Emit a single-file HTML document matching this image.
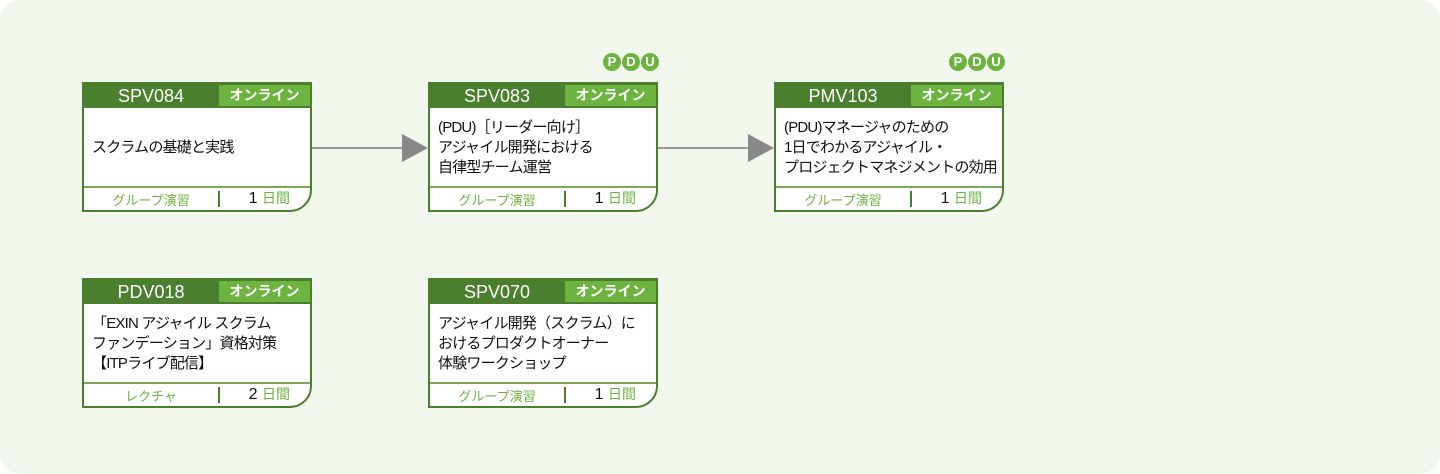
<!DOCTYPE html>
<html><head><meta charset="utf-8"><style>
body{margin:0;width:1440px;height:474px;background:#fff;position:relative;overflow:hidden;font-family:"Liberation Sans","Noto Sans CJK JP",sans-serif}
.bg{position:absolute;left:0;top:0;width:1440px;height:474px;background:#f2f7ee;border-radius:20px}
.card{position:absolute;width:230px;height:130px;border:2px solid #4a7f2e;border-bottom-right-radius:22px;background:#fff;box-sizing:border-box;overflow:hidden}
.hd{position:absolute;left:0;top:0;width:100%;height:24px;background:#4a7f2e}
.code{position:absolute;left:0;top:0;width:134px;height:24px;color:#fff;font-size:18px;line-height:24px;text-align:center}
.on{position:absolute;left:135px;top:1px;width:91px;height:21px;background:#6db33f;color:#fff;font-size:14px;font-weight:bold;line-height:21px;text-align:center}
.body{position:absolute;left:8px;top:24px;right:0;height:80px;display:flex;align-items:center;font-size:15px;line-height:20px;color:#111;white-space:nowrap;letter-spacing:-0.8px}
.ft{position:absolute;left:0;bottom:0;width:100%;height:24px;border-top:2px solid #7aa85a;box-sizing:border-box}
.ft .l{position:absolute;left:0;width:134px;top:2px;text-align:center;color:#6db33f;font-size:13px}
.ft .d{position:absolute;left:134px;top:3px;width:2px;height:16px;background:#4a7f2e}
.ft .r{position:absolute;right:20px;top:0;font-size:16px;color:#111}
.ft .r span{color:#6db33f;font-size:14px}
.pdu{position:absolute;display:flex;gap:1px}
.pdu b{width:18px;height:18px;border-radius:50%;background:#6db33f;color:#fff;font-size:13px;line-height:18px;text-align:center}
</style></head><body>
<div class="bg"></div>
<svg width="1440" height="474" style="position:absolute;left:0;top:0">
<line x1="312" y1="148" x2="404" y2="148" stroke="#999" stroke-width="2"/><polygon points="402,134 428,148 402,162" fill="#888"/>
<line x1="658" y1="148" x2="750" y2="148" stroke="#999" stroke-width="2"/><polygon points="748,134 774,148 748,162" fill="#888"/>
</svg>
<div class="pdu" style="left:603px;top:53px"><b>P</b><b>D</b><b>U</b></div>
<div class="pdu" style="left:949px;top:53px"><b>P</b><b>D</b><b>U</b></div>

<div class="card" style="left:82px;top:82px"><div class="hd"><div class="code">SPV084</div><div class="on">オンライン</div></div>
<div class="body">スクラムの基礎と実践</div>
<div class="ft"><div class="l">グループ演習</div><div class="d"></div><div class="r">1 <span>日間</span></div></div></div>

<div class="card" style="left:428px;top:82px"><div class="hd"><div class="code">SPV083</div><div class="on">オンライン</div></div>
<div class="body">(PDU)［リーダー向け］<br>アジャイル開発における<br>自律型チーム運営</div>
<div class="ft"><div class="l">グループ演習</div><div class="d"></div><div class="r">1 <span>日間</span></div></div></div>

<div class="card" style="left:774px;top:82px"><div class="hd"><div class="code">PMV103</div><div class="on">オンライン</div></div>
<div class="body">(PDU)マネージャのための<br>1日でわかるアジャイル・<br>プロジェクトマネジメントの効用</div>
<div class="ft"><div class="l">グループ演習</div><div class="d"></div><div class="r">1 <span>日間</span></div></div></div>

<div class="card" style="left:82px;top:278px"><div class="hd"><div class="code">PDV018</div><div class="on">オンライン</div></div>
<div class="body">「EXIN アジャイル スクラム<br>ファンデーション」資格対策<br>【ITPライブ配信】</div>
<div class="ft"><div class="l">レクチャ</div><div class="d"></div><div class="r">2 <span>日間</span></div></div></div>

<div class="card" style="left:428px;top:278px"><div class="hd"><div class="code">SPV070</div><div class="on">オンライン</div></div>
<div class="body">アジャイル開発（スクラム）に<br>おけるプロダクトオーナー<br>体験ワークショップ</div>
<div class="ft"><div class="l">グループ演習</div><div class="d"></div><div class="r">1 <span>日間</span></div></div></div>
</body></html>
